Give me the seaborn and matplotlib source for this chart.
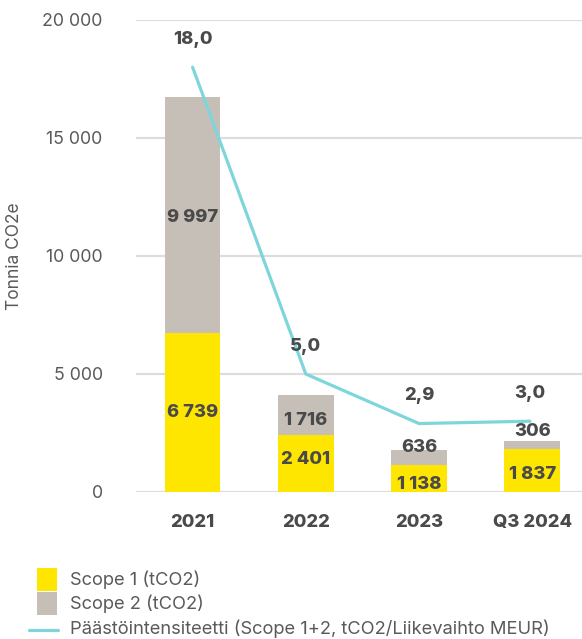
import numpy as np
import pandas as pd
import matplotlib
matplotlib.use("Agg")
import matplotlib.pyplot as plt
from matplotlib.patches import Rectangle
from matplotlib.lines import Line2D
import seaborn as sns

categories = ["2021", "2022", "2023", "Q3 2024"]
scope1 = [6739, 2401, 1138, 1837]
scope2 = [9997, 1716, 636, 306]
intensity = [18.0, 5.0, 2.9, 3.0]
y_ticks = [0, 5000, 10000, 15000, 20000]

YELLOW = "#FFE600"
GREY = "#C6BFB8"
CYAN = "#7ED6DB"
TEXT = "#4A4A4A"
TICK = "#5A5A5A"

sns.set_theme(style="white")
plt.rcParams["font.family"] = ["Inter", "DejaVu Sans"]

def fmt(v):
    return f"{v:,}".replace(",", " ")

df = pd.DataFrame({"cat": categories, "s1": scope1, "s2": scope2})
df["total"] = df["s1"] + df["s2"]

fig = plt.figure(figsize=(5.82, 6.39), dpi=100)
ax = fig.add_axes([136/582, 1 - 492/639, 1 - 136/582, (492 - 20)/639])

sns.barplot(data=df, x="cat", y="total", color=GREY, width=0.49, ax=ax,
            saturation=1, edgecolor="none", linewidth=0)
sns.barplot(data=df, x="cat", y="s1", color=YELLOW, width=0.49, ax=ax,
            saturation=1, edgecolor="none", linewidth=0)

ax.set_ylim(0, 20000)
ax.set_xlim(-0.5, 3.44)
ax.set_yticks(y_ticks)
ax.set_yticklabels([fmt(v) for v in y_ticks], fontsize=12.8, color=TICK)
ax.yaxis.grid(True, color="#DDDDDD", linewidth=1.6)
ax.set_axisbelow(True)
for s in ax.spines.values():
    s.set_visible(False)
ax.tick_params(axis="y", length=0, pad=24)
ax.tick_params(axis="x", length=0, pad=16)
BOLD = "heavy"
for lbl in ax.get_xticklabels():
    lbl.set_fontweight(BOLD)
    lbl.set_fontsize(13.2)
    lbl.set_color(TEXT)
ax.set_xlabel("")
ax.set_ylabel("Tonnia CO2e", fontsize=12.5, color=TICK, labelpad=14)

# bar value labels (offsets in points)
s1_off = [0, 3, -4, -3]
s2_off = [-2, -4, 7, 10]
for i in range(len(categories)):
    ax.annotate(fmt(scope1[i]), (i, scope1[i] / 2), xytext=(0, s1_off[i]),
                textcoords="offset points", ha="center", va="center",
                fontsize=13.2, fontweight=BOLD, color=TEXT)
    ax.annotate(fmt(scope2[i]), (i, scope1[i] + scope2[i] / 2), xytext=(0, s2_off[i]),
                textcoords="offset points", ha="center", va="center",
                fontsize=13.2, fontweight=BOLD, color=TEXT)

ax2 = ax.twinx()
x_pos = np.arange(len(categories))
x_pos_line = x_pos.astype(float)
x_pos_line[-1] = x_pos_line[-1] - 0.02
sns.lineplot(x=x_pos_line, y=intensity, ax=ax2, color=CYAN, linewidth=2.3)
ax2.set_ylim(0, 20)
ax2.set_xlim(-0.5, 3.44)
ax2.set_yticks([])
ax2.set_ylabel("")
for s in ax2.spines.values():
    s.set_visible(False)
for i, v in enumerate(intensity):
    ax2.annotate(f"{v:.1f}".replace(".", ","), (x_pos_line[i], v), xytext=(0, 20),
                 textcoords="offset points", ha="center", va="center",
                 fontsize=13.2, fontweight=BOLD, color=TEXT)

# legend drawn in figure pixels
W, H = 582, 639
def fx(x): return x / W
def fy(y): return 1 - y / H
fig.add_artist(Rectangle((fx(37), fy(591)), 20 / W, 23 / H, transform=fig.transFigure,
                         facecolor=YELLOW, edgecolor="none"))
fig.add_artist(Rectangle((fx(37), fy(615)), 20 / W, 23 / H, transform=fig.transFigure,
                         facecolor=GREY, edgecolor="none"))
fig.add_artist(Line2D([fx(29), fx(58)], [fy(630), fy(630)], transform=fig.transFigure,
                      color=CYAN, linewidth=2.3))
leg_labels = ["Scope 1 (tCO2)", "Scope 2 (tCO2)",
              "Päästöintensiteetti (Scope 1+2, tCO2/Liikevaihto MEUR)"]
for yy, t in zip([580, 604, 629], leg_labels):
    fig.text(fx(70), fy(yy), t, ha="left", va="center", fontsize=13.2, color=TICK)

fig.savefig("out.png", dpi=100)
